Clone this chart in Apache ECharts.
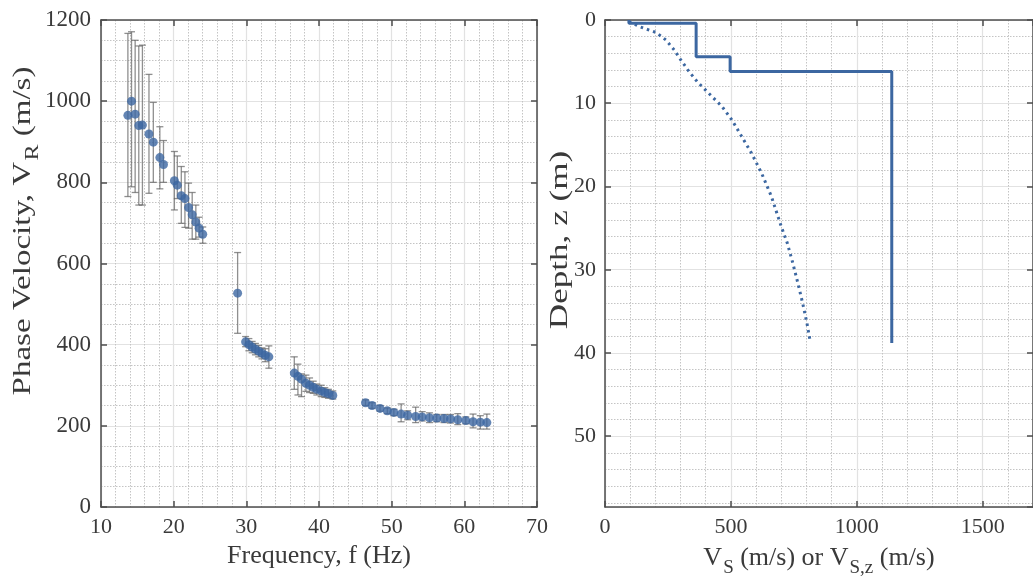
<!DOCTYPE html>
<html>
<head>
<meta charset="utf-8">
<script src="https://cdn.jsdelivr.net/npm/echarts@6/dist/echarts.min.js"></script>
<style>
html,body{margin:0;padding:0;background:#fff;}
#c{width:1033px;height:583px;}
</style>
</head>
<body>
<div id="c"></div>
<script>
// ---- Left panel: dispersion data (frequency Hz, phase velocity m/s) ----
const freq = [13.7, 14.2, 14.7, 15.2, 15.7, 16.6, 17.2, 18.1, 18.6, 20.1, 20.5, 21.05, 21.55, 22.05, 22.55, 23.05, 23.5, 24.0,
  28.8,
  29.9, 30.35, 30.8, 31.25, 31.7, 32.15, 32.6, 33.1,
  36.6, 37.1, 37.6, 38.2, 38.7, 39.2, 39.7, 40.3, 40.8, 41.3, 41.9,
  46.4, 47.3, 48.4, 49.4, 50.3, 51.3, 52.2, 53.3, 54.2, 55.2, 56.2, 57.2, 58.1, 59.1, 60.2, 61.2, 62.2, 63.1];
const vel = [965, 1000, 968, 940, 941, 919, 899, 861, 844, 804, 793, 767, 760, 738, 720, 702, 687, 672,
  527,
  407, 400, 394, 389, 384, 379, 374, 370,
  330, 322, 315, 305, 300, 295, 290, 286, 282, 279, 275,
  257, 250, 243, 237, 233, 229, 226, 223, 222, 220, 219, 218, 217, 215, 213, 210, 209, 208];
const velLow = [765, 789, 775, 744, 744, 773, 800, 784, 800, 732, 760, 699, 689, 687, 660, 660, 665, 650,
  428,
  395, 385, 380, 375, 370, 365, 358, 342,
  290, 276, 272, 285, 282, 280, 276, 272, 270, 268, 266,
  250, 243, 236, 230, 225, 210, 215, 208, 212, 208, 210, 208, 207, 203, 205, 195, 192, 192];
const velHigh = [1167, 1171, 1150, 1136, 1138, 1066, 997, 937, 903, 876, 865, 839, 826, 798, 775, 744, 714, 690,
  627,
  420, 415, 408, 403, 398, 392, 390, 397,
  370, 352, 328, 325, 318, 310, 303, 300, 294, 290, 286,
  264, 257, 250, 244, 241, 254, 237, 246, 235, 232, 228, 228, 228, 230, 222, 229, 225, 229];

// ---- Right panel: shear-wave velocity profile ----
const vsVel   = [95, 95, 362, 362, 497, 497, 1139, 1139];
const vsDepth = [0, 0.4, 0.4, 4.4, 4.4, 6.2, 6.2, 38.8];
const vszVel   = [95, 137, 203, 242, 275, 301, 334, 366, 412, 465, 504, 543, 582, 622, 661, 674, 700, 724, 746, 766, 785, 802, 815];
const vszDepth = [0.2, 0.8, 1.5, 2.4, 3.6, 4.8, 6.2, 7.4, 8.8, 10.4, 12, 14, 16, 18.4, 21.2, 22.4, 24.8, 26.8, 29.2, 31.6, 34, 36.4, 38.6];

// ---- Tick settings ----
const freqTicks = {min: 10, max: 70, major: 10, minor: 2};
const velTicks = {min: 0, max: 1200, major: 200, minor: 50};
const vsTicks = {min: 0, max: 1700, major: 500, minor: 100};
const depthTicks = {min: 0, max: 58.5, major: 10, minor: 2};

const FONT = '"Liberation Serif", "Times New Roman", serif';
const AXC = '#4d4d4d';
const TXT = '#3a3a3a';
const BLUE = '#3c67a1';

function mainAxis(grid, t, pos, showMax, extra) {
  return Object.assign({
    type: 'value', gridIndex: grid, position: pos, min: t.min, max: t.max, interval: t.major,
    axisLine: {show: true, onZero: false, lineStyle: {color: AXC, width: 1.5}},
    axisTick: {show: true, inside: true, length: 6, lineStyle: {color: AXC, width: 1.5}},
    axisLabel: {show: true, fontFamily: FONT, fontSize: 22, color: TXT, margin: 9, showMaxLabel: showMax,
      formatter: v => String(v)},
    splitLine: {show: true, lineStyle: {color: '#e2e2e2', width: 1.2}},
    nameTextStyle: {fontFamily: FONT, fontSize: 26, color: TXT}
  }, extra || {});
}
function mirrorAxis(grid, t, pos, extra) {
  return Object.assign({
    type: 'value', gridIndex: grid, position: pos, min: t.min, max: t.max, interval: t.major,
    axisLine: {show: true, onZero: false, lineStyle: {color: AXC, width: 1.5}},
    axisTick: {show: true, inside: true, length: 6, lineStyle: {color: AXC, width: 1.5}},
    axisLabel: {show: false}, splitLine: {show: false}
  }, extra || {});
}
function minorAxis(grid, t, pos, extra) {
  return Object.assign({
    type: 'value', gridIndex: grid, position: pos, min: t.min, max: t.max, interval: t.minor,
    axisLine: {show: false}, axisTick: {show: false}, axisLabel: {show: false},
    splitLine: {show: true, lineStyle: {color: '#c4c4c4', width: 1, type: [1.5, 1.5]}}
  }, extra || {});
}

const subRich = {
  a: {fontFamily: FONT, fontSize: 26, color: TXT},
  s: {fontFamily: FONT, fontSize: 19, color: TXT, padding: [20, 0, 0, 1]}
};

const option = {
  animation: false,
  backgroundColor: '#ffffff',
  grid: [
    {left: 101, top: 20, width: 436, height: 487},
    {left: 605, top: 20, width: 433, height: 487}
  ],
  xAxis: [
    minorAxis(0, freqTicks, 'bottom'),
    mainAxis(0, freqTicks, 'bottom', true, {name: 'Frequency, f (Hz)', nameLocation: 'middle', nameGap: 36}),
    mirrorAxis(0, freqTicks, 'top'),
    minorAxis(1, vsTicks, 'bottom'),
    mainAxis(1, vsTicks, 'bottom', false, {name: '{a|V}{s|S}{a| (m/s) or V}{s|S,z}{a| (m/s)}', nameLocation: 'middle', nameGap: 32,
      nameTextStyle: {rich: subRich}}),
    mirrorAxis(1, vsTicks, 'top')
  ],
  yAxis: [
    minorAxis(0, velTicks, 'left'),
    mainAxis(0, velTicks, 'left', true, {axisLabel: {fontFamily: FONT, fontSize: 23, color: TXT, margin: 10, formatter: v => String(v)}}),
    mirrorAxis(0, velTicks, 'right'),
    minorAxis(1, depthTicks, 'left', {inverse: true}),
    mainAxis(1, depthTicks, 'left', false, {inverse: true}),
    mirrorAxis(1, depthTicks, 'right', {inverse: true})
  ],
  graphic: [
    {
      type: 'text', x: 23, y: 231, rotation: Math.PI / 2, scaleX: 1.27,
      style: {text: '{a|Phase Velocity, V}{s|R}{a| (m/s)}', rich: subRich, align: 'center', verticalAlign: 'middle', fill: TXT}
    },
    {
      type: 'text', x: 560, y: 240, rotation: Math.PI / 2, scaleX: 1.35,
      style: {text: 'Depth, z (m)', font: '26px ' + FONT, align: 'center', verticalAlign: 'middle', fill: TXT}
    }
  ],
  series: [
    {
      type: 'custom', xAxisIndex: 1, yAxisIndex: 1, z: 3,
      data: freq.map((f, i) => [f, velLow[i], velHigh[i]]),
      encode: {x: 0, y: [1, 2]},
      renderItem: function (params, api) {
        const x = api.value(0);
        const pLo = api.coord([x, api.value(1)]);
        const pHi = api.coord([x, api.value(2)]);
        const w = 3.5;
        const st = {stroke: 'rgba(95,95,95,0.7)', lineWidth: 1.3};
        return {
          type: 'group',
          children: [
            {type: 'line', shape: {x1: pLo[0], y1: pLo[1], x2: pHi[0], y2: pHi[1]}, style: st},
            {type: 'line', shape: {x1: pLo[0] - w, y1: pLo[1], x2: pLo[0] + w, y2: pLo[1]}, style: st},
            {type: 'line', shape: {x1: pHi[0] - w, y1: pHi[1], x2: pHi[0] + w, y2: pHi[1]}, style: st}
          ]
        };
      }
    },
    {
      type: 'scatter', xAxisIndex: 1, yAxisIndex: 1, z: 4,
      symbol: 'circle', symbolSize: 9,
      itemStyle: {color: BLUE},
      data: freq.map((f, i) => [f, vel[i]])
    },
    {
      type: 'line', xAxisIndex: 4, yAxisIndex: 4, z: 4,
      showSymbol: false, symbol: 'none',
      lineStyle: {color: BLUE, width: 3},
      data: vsVel.map((v, i) => [v, vsDepth[i]])
    },
    {
      type: 'line', xAxisIndex: 4, yAxisIndex: 4, z: 4,
      showSymbol: false, symbol: 'none', smooth: false,
      lineStyle: {color: BLUE, width: 3, type: [2.5, 4]},
      data: vszVel.map((v, i) => [v, vszDepth[i]])
    }
  ]
};

const chart = echarts.init(document.getElementById('c'), null, {renderer: 'canvas'});
chart.setOption(option);
</script>
</body>
</html>
